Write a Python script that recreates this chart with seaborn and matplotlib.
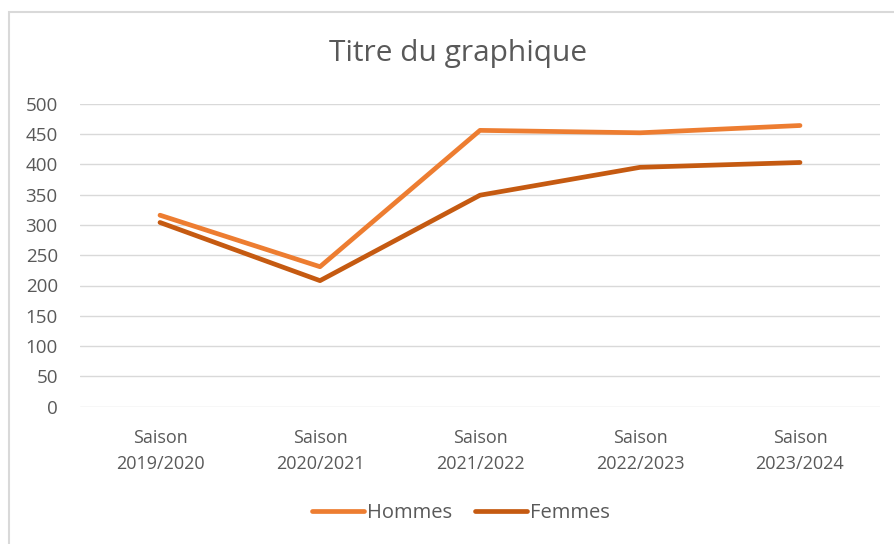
import pandas as pd
import seaborn as sns
import matplotlib.pyplot as plt
from matplotlib.patches import Rectangle

saisons = ["Saison\n2019/2020", "Saison\n2020/2021", "Saison\n2021/2022",
           "Saison\n2022/2023", "Saison\n2023/2024"]
hommes = [316, 231, 456, 452, 464]
femmes = [304, 208, 349, 395, 403]
series = ["Hommes", "Femmes"]
colors = {"Hommes": "#ED7D31", "Femmes": "#C55A11"}

df = pd.DataFrame({
    "Saison": saisons * 2,
    "Valeur": hommes + femmes,
    "Serie": [series[0]] * len(saisons) + [series[1]] * len(saisons),
})

sns.set_theme(style="white")
plt.rcParams["font.family"] = ["Open Sans", "DejaVu Sans"]

W, H = 894, 544
fig = plt.figure(figsize=(W / 100, H / 100), dpi=100)
ax = fig.add_axes([80 / W, 1 - 406.7 / H, 800 / W, 303 / H])

sns.lineplot(data=df, x="Saison", y="Valeur", hue="Serie", palette=colors,
             linewidth=3.4, sort=False, ax=ax, legend=False)
for l in ax.lines:
    l.set_solid_capstyle("round")
    l.set_solid_joinstyle("round")

ax.set_xlim(-0.5, 4.5)
ax.set_ylim(0, 500)
ax.set_yticks(range(0, 501, 50))
ax.yaxis.grid(True, color="#D9D9D9", linewidth=1)
ax.set_axisbelow(True)
for s in ax.spines.values():
    s.set_visible(False)
ax.set_xlabel("")
ax.set_ylabel("")
ax.tick_params(axis="both", length=0, labelcolor="#595959")
ax.tick_params(axis="y", labelsize=13.5, pad=16)
ax.tick_params(axis="x", labelsize=13, pad=16)
for t in ax.get_xticklabels():
    t.set_linespacing(1.55)

fig.text(458 / W, 1 - 54 / H, "Titre du graphique", ha="center", va="center",
         fontsize=21.5, color="#595959")

handles = [plt.Line2D([], [], color=colors[s], linewidth=3.4, solid_capstyle="round")
           for s in series]
fig.legend(handles, series, loc="center", bbox_to_anchor=(461 / W, 1 - 513 / H),
           ncol=2, frameon=False, fontsize=14.5, labelcolor="#595959",
           handlelength=2.6, handletextpad=0.15, columnspacing=1.1)

# chart frame (left and top edges visible, the rest is cut off)
fig.patches.append(Rectangle((8.5 / W, -0.1), 1.2, 1.1 - 11.5 / H,
                             transform=fig.transFigure, fill=False,
                             edgecolor="#D9D9D9", linewidth=1.5))

fig.savefig("out.png", dpi=100)
